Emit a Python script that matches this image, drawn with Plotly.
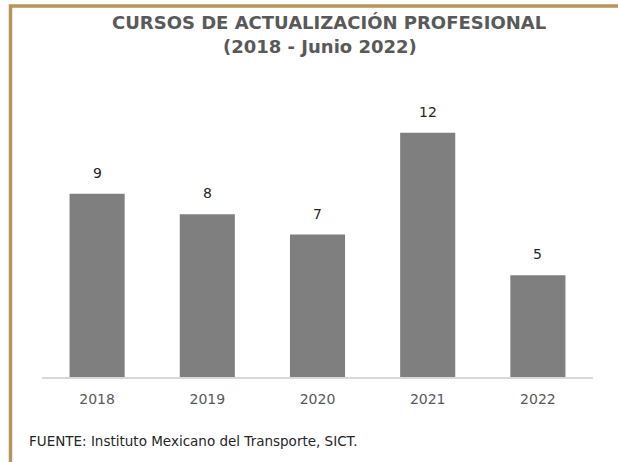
import plotly.graph_objects as go

years = ["2018", "2019", "2020", "2021", "2022"]
cursos = [9, 8, 7, 12, 5]
title_line1 = "CURSOS DE ACTUALIZACIÓN PROFESIONAL"
title_line2 = "(2018 - Junio 2022)"
source = "FUENTE: Instituto Mexicano del Transporte, SICT."

FONT = "DejaVu Sans, sans-serif"
W, H = 618, 462
L, R, T, B = 42, 25, 92, 85
pw = W - L - R
ph = H - T - B

def px2x(px):
    return (px - L) / pw

def py2y(py):
    return (H - B - py) / ph

fig = go.Figure()
fig.add_trace(go.Bar(
    x=years, y=cursos,
    marker=dict(color="#7F7F7F", line=dict(width=0)),
    hoverinfo="skip",
))

for i, v in enumerate(cursos):
    fig.add_annotation(x=i, y=v, text=str(v), showarrow=False,
                       yanchor="bottom", yshift=11,
                       font=dict(family=FONT, size=14, color="#262626"))

fig.add_annotation(xref="paper", yref="paper", x=px2x(329), y=py2y(22.5),
                   text="<b>" + title_line1 + "</b>", showarrow=False,
                   xanchor="center", yanchor="middle",
                   font=dict(family=FONT, size=18, color="#595959"))
fig.add_annotation(xref="paper", yref="paper", x=px2x(319.5), y=py2y(47),
                   text="<b>" + title_line2 + "</b>", showarrow=False,
                   xanchor="center", yanchor="middle",
                   font=dict(family=FONT, size=18, color="#595959"))
fig.add_annotation(xref="paper", yref="paper", x=px2x(27), y=py2y(441),
                   text=source, showarrow=False,
                   xanchor="left", yanchor="middle",
                   font=dict(family=FONT, size=13.5, color="#262626"))

border = "#B9935E"
x_l, x_r = px2x(10.5), px2x(625)
y_t, y_b = py2y(6), py2y(470)
fig.add_shape(type="path", xref="paper", yref="paper",
              path=f"M {x_l} {y_b} L {x_l} {y_t} L {x_r} {y_t}",
              line=dict(color=border, width=3.5), layer="above")

fig.update_layout(
    width=W, height=H,
    margin=dict(l=L, r=R, t=T, b=B),
    paper_bgcolor="white", plot_bgcolor="white",
    bargap=0.5, showlegend=False,
    xaxis=dict(type="category", range=[-0.5, 4.5], showline=True,
               linecolor="#D9D9D9", linewidth=2, ticklabelstandoff=8,
               ticks="", tickfont=dict(family=FONT, size=14, color="#595959"),
               showgrid=False, fixedrange=True),
    yaxis=dict(range=[0, 14], visible=False, showgrid=False, fixedrange=True),
)

fig.write_html("out.html", config={"displayModeBar": False},
               post_script="document.body.style.margin='0';")
